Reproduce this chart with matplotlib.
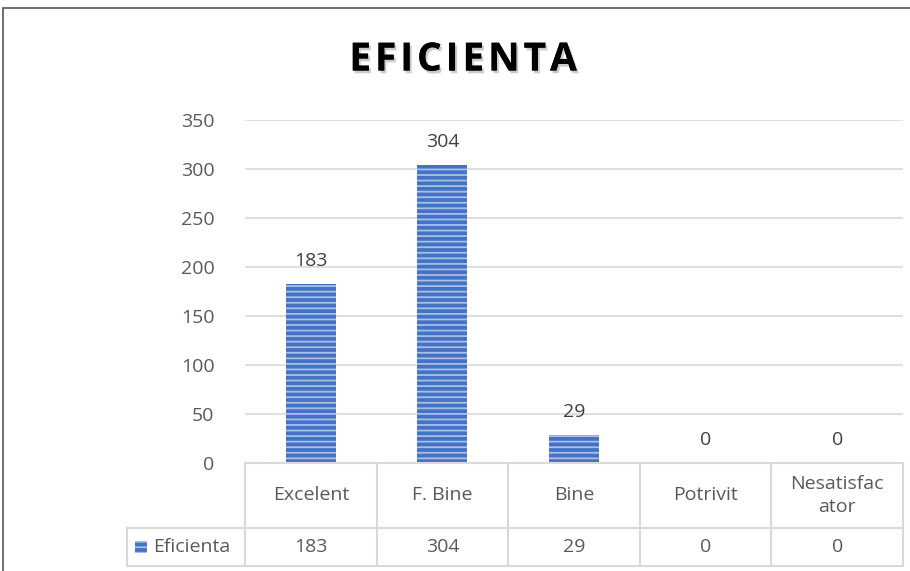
import matplotlib.pyplot as plt
import matplotlib.transforms as mtransforms
from matplotlib.patches import Rectangle
from matplotlib.lines import Line2D
import matplotlib.patheffects as pe

categories = ["Excelent", "F. Bine", "Bine", "Potrivit", "Nesatisfac\nator"]
values = [183, 304, 29, 0, 0]
series_name = "Eficienta"
yticks = [0, 50, 100, 150, 200, 250, 300, 350]

W, H = 910, 571
BLUE = "#4472C4"
STRIPE = "#a8bfe8"
GRID = "#d9d9d9"
TXT = "#595959"

plt.rcParams["font.family"] = ["Open Sans", "DejaVu Sans"]
plt.rcParams["hatch.linewidth"] = 1.3

fig = plt.figure(figsize=(W / 100, H / 100), dpi=100)

def px(x, y):
    return x / W, 1 - y / H

# outer frame
fig.add_artist(Rectangle(px(3, 575), 920 / W, 567 / H, transform=fig.transFigure,
                         fill=False, edgecolor="#555555", linewidth=1.2))

x0, y0 = px(245, 463)
x1, y1 = px(903, 120)
ax = fig.add_axes([x0, y0, x1 - x0, y1 - y0])

xs = list(range(len(categories)))
bars = ax.bar(xs, values, width=0.38, color=BLUE, edgecolor=STRIPE,
              hatch="---", linewidth=0, zorder=3)
for b, v in zip(bars, values):
    ax.annotate(str(v), (b.get_x() + b.get_width() / 2, v), xytext=(0, 10),
                textcoords="offset points", ha="center", va="bottom",
                fontsize=14, color="#404040")

ax.set_xlim(-0.5, len(categories) - 0.5)
ax.set_ylim(0, 350)
ax.set_yticks(yticks)
ax.yaxis.grid(True, color=GRID, linewidth=1.2)
ax.set_axisbelow(True)
ax.tick_params(axis="y", length=0, labelsize=14, labelcolor=TXT, pad=22)
ax.tick_params(axis="x", length=0, labelbottom=False)
for s in ax.spines.values():
    s.set_visible(False)

# data table below the plot
tr = mtransforms.blended_transform_factory(ax.transData, fig.transFigure)
row_top = 1 - 463 / H
row_mid = 1 - 528 / H
row_bot = 1 - 566 / H
edges = [i - 0.5 for i in range(len(categories) + 1)]
line_kw = dict(color=GRID, linewidth=1.5)

fig.add_artist(Line2D([edges[0], edges[-1]], [row_top, row_top], transform=tr, **line_kw))
legend_left = 127 / W
fig.add_artist(Line2D([legend_left, x1], [row_mid, row_mid], transform=fig.transFigure, **line_kw))
fig.add_artist(Line2D([legend_left, x1], [row_bot, row_bot], transform=fig.transFigure, **line_kw))
fig.add_artist(Line2D([legend_left, legend_left], [row_mid, row_bot], transform=fig.transFigure, **line_kw))
for e in edges:
    fig.add_artist(Line2D([e, e], [row_top, row_bot], transform=tr, **line_kw))

for i, (c, v) in enumerate(zip(categories, values)):
    fig.text(i, (row_top + row_mid) / 2, c, transform=tr, ha="center", va="center",
             fontsize=14, color=TXT, linespacing=1.4)
    fig.text(i, (row_mid + row_bot) / 2, str(v), transform=tr, ha="center", va="center",
             fontsize=14, color=TXT)

# legend key in the table
fig.add_artist(Rectangle(px(135, 553), 12 / W, 12 / H, transform=fig.transFigure,
                         facecolor=BLUE, edgecolor=STRIPE, hatch="---", linewidth=0))
fig.text(153 / W, (row_mid + row_bot) / 2, series_name, ha="left", va="center",
         fontsize=14, color=TXT)

fig.text(463 / W, 1 - 60 / H, "\u200a".join("EFICIENTA"),
         ha="center", va="center", fontsize=28, fontweight="bold", color="black",
         path_effects=[pe.withSimplePatchShadow(offset=(1.5, -2), shadow_rgbFace="#999999", alpha=0.5), pe.Normal()])

fig.savefig("out.png", dpi=100)
